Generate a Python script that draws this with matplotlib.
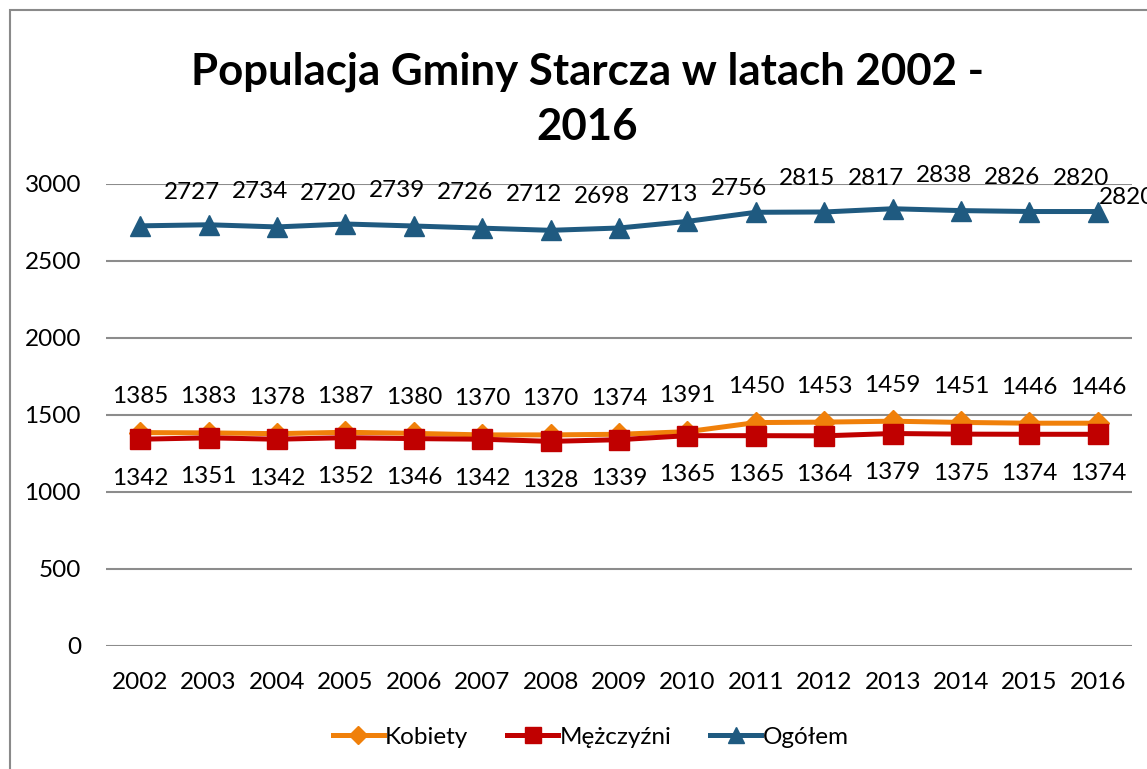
import matplotlib
matplotlib.use('Agg')
import matplotlib.pyplot as plt
from matplotlib.patches import Rectangle

# dane
lata = ['2002', '2003', '2004', '2005', '2006', '2007', '2008', '2009',
        '2010', '2011', '2012', '2013', '2014', '2015', '2016']
kobiety = [1385, 1383, 1378, 1387, 1380, 1370, 1370, 1374, 1391, 1450,
           1453, 1459, 1451, 1446, 1446]
mezczyzni = [1342, 1351, 1342, 1352, 1346, 1342, 1328, 1339, 1365, 1365,
             1364, 1379, 1375, 1374, 1374]
ogolem = [2727, 2734, 2720, 2739, 2726, 2712, 2698, 2713, 2756, 2815,
          2817, 2838, 2826, 2820, 2820]

plt.rcParams['font.family'] = ['Lato', 'DejaVu Sans']

fig = plt.figure(figsize=(11.47, 7.69), dpi=100)
ax = fig.add_axes([0.0924, 0.160, 0.8946, 0.601])

# ramka wykresu (ucieta z prawej i z dolu)
fig.patches.append(Rectangle((10/1147, -0.1), 1.2, 1 - 10/769 + 0.1,
                             transform=fig.transFigure, fill=False,
                             edgecolor='#8a8a8a', linewidth=1.5))

x = list(range(len(lata)))
c_kob = '#F0800A'
c_mez = '#C00000'
c_og = '#1F5A80'

ax.plot(x, kobiety, color=c_kob, linewidth=3.6, marker='D', markersize=11,
        label='Kobiety', zorder=3)
ax.plot(x, mezczyzni, color=c_mez, linewidth=3.6, marker='s', markersize=15,
        label='Mężczyźni', zorder=4)
ax.plot(x, ogolem, color=c_og, linewidth=3.6, marker='^', markersize=15,
        label='Ogółem', zorder=5)

fs = 17.5
for i in x:
    ax.annotate(str(kobiety[i]), (i, kobiety[i]), xytext=(0, 26),
                textcoords='offset points', ha='center', va='center', fontsize=fs)
    ax.annotate(str(mezczyzni[i]), (i, mezczyzni[i]), xytext=(0, -28),
                textcoords='offset points', ha='center', va='center', fontsize=fs)
    if i == len(x) - 1:
        ax.annotate(str(ogolem[i]), (i, ogolem[i]), xytext=(1, 10),
                    textcoords='offset points', ha='left', va='center',
                    fontsize=fs, annotation_clip=False)
    else:
        ax.annotate(str(ogolem[i]), (i, ogolem[i]), xytext=(37, 24),
                    textcoords='offset points', ha='center', va='center', fontsize=fs)

ax.set_xlim(-0.5, len(lata) - 0.5)
ax.set_ylim(0, 3000)
ax.set_yticks([0, 500, 1000, 1500, 2000, 2500, 3000])
ax.set_xticks(x)
ax.set_xticklabels(lata)
ax.tick_params(axis='both', length=0, labelsize=fs)
ax.tick_params(axis='y', pad=18)
ax.tick_params(axis='x', pad=19)
ax.grid(axis='y', color='#8c8c8c', linewidth=1.5)
ax.set_axisbelow(True)
for s in ax.spines.values():
    s.set_visible(False)

fig.text(0.512, 0.871, 'Populacja Gminy Starcza w latach 2002 -\n2016',
         ha='center', va='center', fontsize=31.5, fontweight='bold',
         linespacing=1.45)

leg = fig.legend(loc='center', bbox_to_anchor=(0.515, 0.041), ncol=3,
                 frameon=False, fontsize=fs, handlelength=2.1,
                 columnspacing=1.6, handletextpad=0.05, markerscale=0.8)

fig.savefig('out.png', dpi=100)
